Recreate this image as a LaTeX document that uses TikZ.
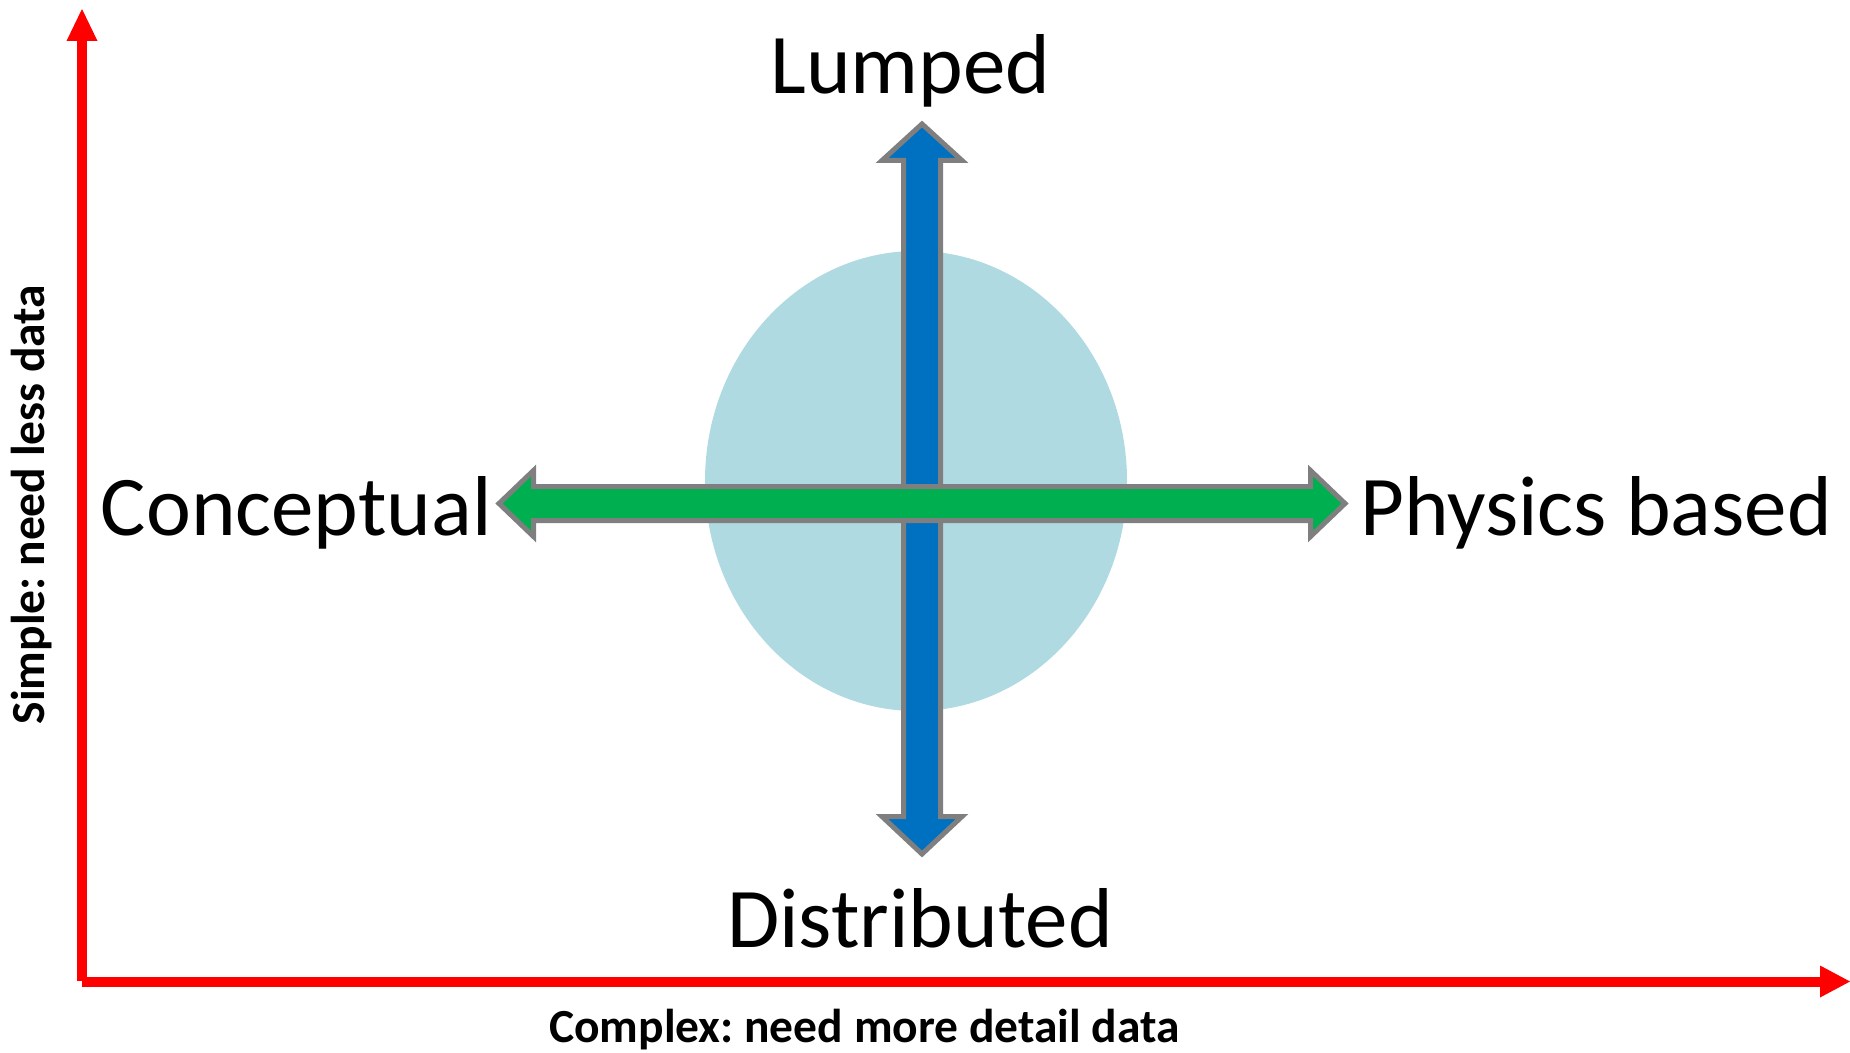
\documentclass[tikz,border=0pt]{standalone}
\usepackage{fontspec}
\setmainfont{Carlito}
\frenchspacing
\definecolor{axisred}{RGB}{255,0,0}
\definecolor{zonefill}{RGB}{176,218,225}
\definecolor{lumpblue}{RGB}{0,112,192}
\definecolor{physgreen}{RGB}{0,176,80}
\definecolor{rimgray}{RGB}{127,127,127}
\begin{document}
\begin{tikzpicture}[x=0.5pt,y=-0.5pt,
  axisline/.style={draw=axisred,line width=5pt},
  axishead/.style={fill=axisred},
  bigarrow/.style={draw=rimgray,line width=2.5pt,line join=miter},
  term/.style={inner sep=0pt,font=\fontsize{42.5}{50}\selectfont},
  axislabel/.style={inner sep=0pt,font=\fontsize{23.75}{28}\selectfont\bfseries}]
\useasboundingbox (0,0) rectangle (1850,1053);

% shaded region behind the arrows
\fill[zonefill] (916,481) ellipse [x radius=211, y radius=230];

% axes
\coordinate (origin) at (82,981.5);
\coordinate (ytip) at (82,9);
\coordinate (xtip) at (1850,981.5);
\draw[axisline] (82,981) -- (82,41);
\draw[axisline] (origin) -- (1820,981.5);
\fill[axishead] (66.5,41) -- (ytip) -- (97.5,41) -- cycle;
\fill[axishead] (1820,965.5) -- (xtip) -- (1820,997.5) -- cycle;

% vertical double arrow: lumped <-> distributed
\filldraw[bigarrow,fill=lumpblue]
  (922,124) -- (962,160.5) -- (940.5,160.5) -- (940.5,816.5) -- (962,816.5)
  -- (922,854) -- (882,816.5) -- (903.5,816.5) -- (903.5,160.5) -- (882,160.5) -- cycle;

% horizontal double arrow: conceptual <-> physics based
\filldraw[bigarrow,fill=physgreen]
  (499,503.5) -- (533.5,470.5) -- (533.5,486.5) -- (1310.5,486.5) -- (1310.5,470.5)
  -- (1345,503.5) -- (1310.5,536.5) -- (1310.5,520.5) -- (533.5,520.5) -- (533.5,536.5) -- cycle;

% end labels
\node[term,anchor=base] (lumped) at (910.5,94) {Lumped};
\node[term,anchor=base] (distributed) at (920,947) {Distributed};
\node[term,anchor=base east] (conceptual) at (492,535) {Conceptual};
\node[term,anchor=base west] (physics) at (1360,535) {Physics based};

% axis titles
\node[axislabel,anchor=base] (xlabel) at (864.5,1042) {Complex: need more detail data};
\node[axislabel,anchor=base,rotate=90] (ylabel) at (44,504.5) {Simple: need less data};
\end{tikzpicture}
\end{document}
